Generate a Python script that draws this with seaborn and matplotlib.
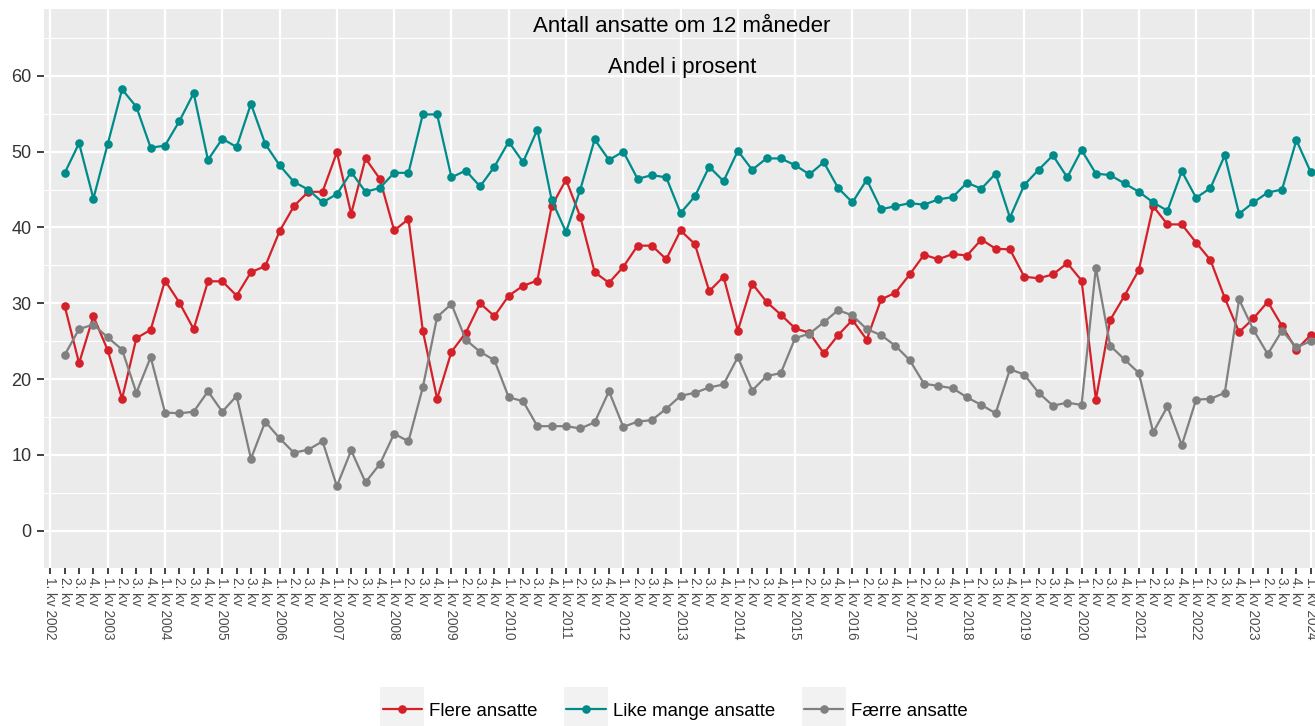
import numpy as np
import pandas as pd
import seaborn as sns
import matplotlib.pyplot as plt
from matplotlib.patches import Rectangle

# Andel i prosent, 2. kv 2002 - 1. kv 2024
flere = [29.6, 22.1, 28.3, 23.8, 17.4, 25.4, 26.5, 33.0, 30.1, 26.6,
         32.9, 32.9, 31.0, 34.1, 34.9, 39.5, 42.8, 44.7, 44.7, 49.9,
         41.8, 49.1, 46.4, 39.6, 41.1, 26.4, 17.4, 23.6, 26.1, 30.0,
         28.3, 31.0, 32.3, 33.0, 42.8, 46.3, 41.4, 34.1, 32.7, 34.8,
         37.6, 37.6, 35.8, 39.6, 37.8, 31.6, 33.5, 26.4, 32.6, 30.2,
         28.5, 26.7, 26.1, 23.4, 25.8, 27.8, 25.2, 30.5, 31.4, 33.8,
         36.4, 35.8, 36.5, 36.3, 38.4, 37.2, 37.1, 33.5, 33.3, 33.8,
         35.3, 33.0, 17.3, 27.8, 31.0, 34.4, 42.8, 40.4, 40.4, 38.0,
         35.7, 30.7, 26.2, 28.0, 30.2, 27.0, 23.9, 25.8]
like_mange = [47.2, 51.1, 43.8, 51.0, 58.2, 55.9, 50.5, 50.8, 54.0, 57.7,
              48.9, 51.7, 50.6, 56.3, 51.0, 48.2, 46.0, 45.0, 43.3, 44.4,
              47.3, 44.7, 45.2, 47.2, 47.2, 54.9, 54.9, 46.6, 47.5, 45.4,
              48.0, 51.3, 48.6, 52.9, 43.6, 39.4, 45.0, 51.6, 48.9, 50.0,
              46.4, 46.9, 46.6, 41.9, 44.1, 48.0, 46.1, 50.1, 47.6, 49.1,
              49.1, 48.2, 47.0, 48.6, 45.2, 43.3, 46.3, 42.4, 42.8, 43.2,
              43.0, 43.7, 44.0, 45.9, 45.1, 47.1, 41.3, 45.6, 47.6, 49.5,
              46.6, 50.2, 47.1, 46.9, 45.8, 44.7, 43.3, 42.2, 47.4, 43.9,
              45.2, 49.5, 41.8, 43.3, 44.6, 45.0, 51.5, 47.3]
faerre = [23.2, 26.6, 27.2, 25.5, 23.9, 18.2, 22.9, 15.6, 15.5, 15.7,
          18.4, 15.7, 17.8, 9.5, 14.4, 12.2, 10.3, 10.7, 11.8, 5.9,
          10.6, 6.4, 8.8, 12.8, 11.8, 18.9, 28.2, 29.9, 25.2, 23.6,
          22.5, 17.6, 17.1, 13.8, 13.8, 13.8, 13.5, 14.3, 18.4, 13.7,
          14.4, 14.6, 16.1, 17.8, 18.2, 18.9, 19.3, 22.9, 18.5, 20.4,
          20.8, 25.4, 26.0, 27.5, 29.1, 28.4, 26.6, 25.8, 24.4, 22.5,
          19.4, 19.1, 18.8, 17.6, 16.6, 15.5, 21.3, 20.6, 18.2, 16.5,
          16.9, 16.6, 34.7, 24.4, 22.6, 20.8, 13.0, 16.4, 11.3, 17.3,
          17.4, 18.2, 30.5, 26.5, 23.3, 26.4, 24.2, 25.0]

serier = ['Flere ansatte', 'Like mange ansatte', 'Færre ansatte']
farger = ['#D42028', '#008B8B', '#808080']
aar = list(range(2002, 2025))
kvartal_labels = [f'{q}. kv {y}' if q == 1 else f'{q}. kv'
                  for y in aar for q in range(1, 5)][:89]

x = np.arange(1, len(flere) + 1)
df = pd.concat([
    pd.DataFrame({'idx': x, 'verdi': v, 'serie': s})
    for s, v in zip(serier, [flere, like_mange, faerre])
])

sns.set_style('darkgrid', {'axes.facecolor': '#EBEBEB', 'grid.color': 'white'})
plt.rcParams['font.family'] = ['Liberation Sans', 'DejaVu Sans']

fig = plt.figure(figsize=(13.15, 7.26), dpi=100)
ax = fig.add_axes([44 / 1315, 1 - 568 / 726, 1 - 44 / 1315, (568 - 9) / 726])

sns.lineplot(data=df, x='idx', y='verdi', hue='serie', hue_order=serier,
             palette=farger, marker='o', markersize=6.2, markeredgewidth=0,
             linewidth=1.6, ax=ax, legend=True)

ax.set_xlim(-0.45, 88.3)
ax.set_ylim(-4.9, 68.8)

# grid
ax.grid(False)
for v in range(-5, 70, 10):
    ax.axhline(v, color='white', lw=0.8, zorder=0)
for v in range(0, 70, 10):
    ax.axhline(v, color='white', lw=1.6, zorder=0)
for v in range(0, 89, 4):
    ax.axvline(v, color='white', lw=1.6, zorder=0)

ax.set_yticks(range(0, 70, 10))
ax.set_xticks(range(89))
ax.set_xticklabels(kvartal_labels, rotation=270, fontsize=9.8,
                   color='#4D4D4D', va='top', ha='center')
ax.tick_params(axis='y', left=True, labelsize=13, labelcolor='#333333', length=5,
               width=1.3, color='#333333', pad=4)
ax.tick_params(axis='x', bottom=True, length=4.3, width=1.3, color='#333333', pad=2)
ax.set_xlabel('')
ax.set_ylabel('')
for sp in ax.spines.values():
    sp.set_visible(False)

fig.text(682 / 1315, 1 - 27 / 726, 'Antall ansatte om 12 måneder',
         ha='center', va='center', fontsize=16, color='black')
fig.text(682 / 1315, 1 - 67 / 726, 'Andel i prosent',
         ha='center', va='center', fontsize=16, color='black')

handles, labels = ax.get_legend_handles_labels()
ax.get_legend().remove()
leg = fig.legend(handles, labels, loc='center', ncol=3,
                 bbox_to_anchor=(675 / 1315, 1 - 711 / 726), frameon=False,
                 fontsize=13.4, handlelength=2.1, handletextpad=0.4,
                 columnspacing=1.55)
for t in leg.get_texts():
    t.set_color('black')

fig.canvas.draw()
r = fig.canvas.get_renderer()
for h in leg.legend_handles:
    bb = h.get_window_extent(r)
    cx, cy = (bb.x0 + bb.x1) / 2, (bb.y0 + bb.y1) / 2
    fig.add_artist(Rectangle(((cx - 22) / 1315, (cy - 22) / 726), 44 / 1315, 44 / 726,
                             transform=fig.transFigure, facecolor='#F2F2F2',
                             edgecolor='none', zorder=-1))

fig.savefig('out.png', dpi=100)
